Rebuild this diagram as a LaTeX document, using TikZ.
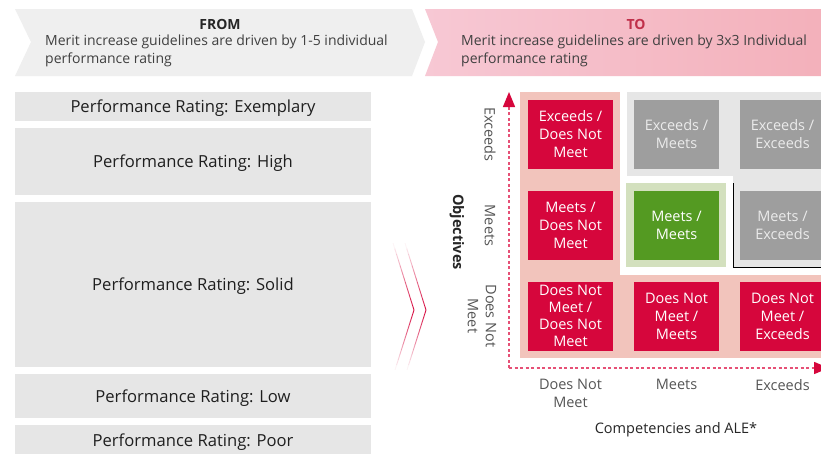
\documentclass[tikz,border=0pt]{standalone}
\usepackage{fontspec}
\setmainfont{Open Sans}
\usetikzlibrary{positioning,arrows.meta,calc}
\definecolor{crimson}{RGB}{214,6,60}
\definecolor{axispink}{RGB}{230,80,118}
\definecolor{cellgray}{RGB}{158,158,158}
\definecolor{cellgreen}{RGB}{84,154,34}
\definecolor{blush}{RGB}{242,196,188}
\definecolor{sage}{RGB}{211,224,190}
\definecolor{panel}{RGB}{230,230,230}
\definecolor{banner}{RGB}{239,239,239}
\definecolor{roseleft}{RGB}{247,200,212}
\definecolor{roseright}{RGB}{243,176,186}
\definecolor{totitle}{RGB}{192,48,74}
\definecolor{inkgray}{RGB}{85,85,85}
\newcommand{\ratingfont}{\fontsize{16.6}{19}\selectfont}
\newcommand{\cellfont}{\fontsize{14.5}{18}\selectfont}
\newcommand{\headfont}{\fontsize{14}{18}\selectfont}

\tikzset{
  rating/.style={fill=panel, minimum width=356pt, inner sep=0pt, text height=12pt, text depth=0pt, font=\ratingfont, text=black!88},
  cell/.style={minimum width=85pt, minimum height=69pt, inner sep=0pt, align=center, font=\cellfont},
  redcell/.style={cell, fill=crimson, text=white},
  graycell/.style={cell, fill=cellgray, text=white!92!black},
  greencell/.style={cell, fill=cellgreen, text=white},
  axislabel/.style={font=\cellfont, text=inkgray, align=center},
  axisline/.style={axispink, line width=1.4pt, dash pattern=on 3pt off 2.5pt, -{Triangle[length=15pt,width=12pt,color=crimson,fill=crimson]}},
}

\begin{document}
\begin{tikzpicture}[x=1pt, y=-1pt]
\useasboundingbox[fill=white] (0,0) rectangle (821,453);

% banners
\fill[banner] (15,9) -- (412,9) -- (425,42) -- (412,76) -- (15,76) -- (31,42) -- cycle;
\shade[left color=roseleft, right color=roseright] (425,9) -- (830,9) -- (830,76) -- (425,76) -- (438,42) -- cycle;
\node[font=\headfont\bfseries, text=black!85] (fromtitle) at (220,24) {FROM};
\node[font=\headfont, text=black!75, align=left, anchor=north west, inner sep=0pt] (fromtext) at (45,35)
  {Merit increase guidelines are driven by 1-5 individual\\performance rating};
\node[font=\headfont\bfseries, text=totitle] (totitle) at (636,24) {TO};
\node[font=\headfont, text=black!75, align=left, anchor=north west, inner sep=0pt] (totext) at (461,35)
  {Merit increase guidelines are driven by 3x3 Individual\\performance rating};

% old ratings
\node[rating, minimum height=29pt] (exemplary) at (193,106.5) {Performance Rating: Exemplary};
\node[rating, minimum height=67pt] (high) at (193,161.5) {Performance Rating: High};
\node[rating, minimum height=165pt] (solid) at (193,284.5) {Performance Rating: Solid};
\node[rating, minimum height=44pt] (low) at (193,396) {Performance Rating: Low};
\node[rating, minimum height=30pt] (poor) at (193,440) {Performance Rating: Poor};

% chevron, fading towards both ends
\foreach \dx in {0,12} {
  \coordinate (chevtop) at (393+\dx,243);
  \coordinate (chevtip) at (414+\dx,310);
  \coordinate (chevbot) at (395+\dx,370);
  \foreach \i in {0,...,11} {
    \pgfmathsetmacro\op{(\i+0.5)/12}
    \pgfmathsetmacro\cur{\i/12}
    \pgfmathsetmacro\nxt{(\i+1)/12}
    \draw[crimson, line width=0.9pt, opacity=\op] ($(chevtop)!\cur!(chevtip)$) -- ($(chevtop)!\nxt!(chevtip)$);
    \draw[crimson, line width=0.9pt, opacity=\op] ($(chevbot)!\cur!(chevtip)$) -- ($(chevbot)!\nxt!(chevtip)$);
  }
}

% grid background
\fill[blush] (520,92) rectangle (830,358);
\fill[white] (620,92) rectangle (830,275);
\fill[panel] (627,92) rectangle (830,176);
\fill[panel] (733,92) rectangle (830,267);
\draw[black, line width=0.7pt] (733,183) -- (733,267) -- (830,267);
\fill[sage] (626,183) rectangle (726,267);

% cells
\node[redcell] (exdnm) at (570.5,134.5) {Exceeds /\\Does Not\\Meet};
\node[graycell] (exme) at (676.5,134.5) {Exceeds /\\Meets};
\node[graycell] (exex) at (782.5,134.5) {Exceeds /\\Exceeds};
\node[redcell] (mednm) at (570.5,225.5) {Meets /\\Does Not\\Meet};
\node[greencell] (meme) at (676.5,225.5) {Meets /\\Meets};
\node[graycell] (meex) at (782.5,225.5) {Meets /\\Exceeds};
\node[redcell, font=\fontsize{14.5}{17}\selectfont] (dnmdnm) at (570.5,316) {Does Not\\Meet /\\Does Not\\Meet};
\node[redcell] (dnmme) at (676.5,316) {Does Not\\Meet /\\Meets};
\node[redcell] (dnmex) at (782.5,316) {Does Not\\Meet /\\Exceeds};

% axes
\coordinate (origin) at (509,368);
\coordinate (ytip) at (509,92);
\coordinate (xtip) at (829,368);
\draw[axisline] (origin) -- (ytip);
\draw[axisline] (origin) -- (xtip);

\node[axislabel, rotate=-90] (yex) at (490,134.5) {Exceeds};
\node[axislabel, rotate=-90] (yme) at (490,225.5) {Meets};
\node[axislabel, rotate=-90] (ydnm) at (482,316) {Does Not\\Meet};
\node[font=\cellfont\bfseries, text=black!85, rotate=-90] (objectives) at (457,232) {Objectives};

\node[axislabel, anchor=north] (xdnm) at (570.5,376) {Does Not\\Meet};
\node[axislabel, anchor=north] (xme) at (676.5,376) {Meets};
\node[axislabel, anchor=north] (xex) at (782.5,376) {Exceeds};
\node[font=\cellfont, text=black!85] (competencies) at (676,430) {Competencies and ALE*};
\end{tikzpicture}
\end{document}
